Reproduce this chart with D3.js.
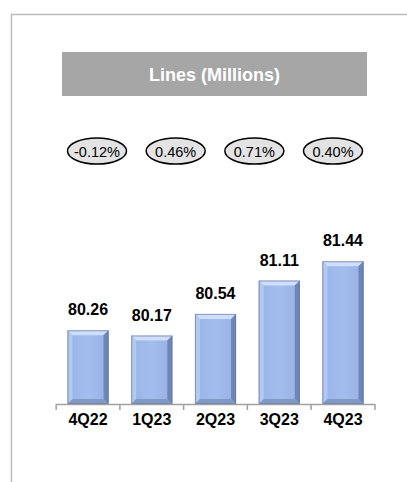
<!DOCTYPE html>
<html>
<head>
<meta charset="utf-8">
<script src="https://cdn.jsdelivr.net/npm/d3@7"></script>
<style>
  body { margin: 0; background: #fff; overflow: hidden; }
  svg { display: block; }
</style>
</head>
<body>
<div id="chart"></div>
<script>
// data
const quarters = ["4Q22", "1Q23", "2Q23", "3Q23", "4Q23"];
const lines = [80.26, 80.17, 80.54, 81.11, 81.44];
const growth = ["-0.12%", "0.46%", "0.71%", "0.40%"];
const title = "Lines (Millions)";

const W = 407, H = 482;
const svg = d3.select("#chart").append("svg")
    .attr("width", W).attr("height", H);

// frame (runs off the right and bottom of the picture)
svg.append("rect")
    .attr("x", 11.5).attr("y", 14.5)
    .attr("width", 420).attr("height", 500)
    .attr("fill", "none").attr("stroke", "#bdbdbd").attr("stroke-width", 1.5);

// title box
svg.append("rect")
    .attr("x", 62).attr("y", 52).attr("width", 305).attr("height", 44)
    .attr("fill", "#a6a6a6");
svg.append("text")
    .attr("x", 214.5).attr("y", 81)
    .attr("text-anchor", "middle")
    .style("font-family", "Liberation Sans, Arial, sans-serif")
    .style("font-weight", "bold").style("font-size", "18px")
    .attr("fill", "#fff")
    .text(title);

// growth ellipses, between consecutive bars
const gx = d3.scalePoint().domain(growth.map((d, i) => i)).range([97, 333]);
const eg = svg.selectAll(".growth").data(growth).join("g")
    .attr("class", "growth")
    .attr("transform", (d, i) => `translate(${gx(i)},151)`);
eg.append("ellipse")
    .attr("rx", 29.5).attr("ry", 13)
    .attr("fill", "#e3e3e3").attr("stroke", "#000").attr("stroke-width", 1.5);
eg.append("text")
    .attr("y", 5.5)
    .attr("text-anchor", "middle")
    .style("font-family", "Liberation Sans, Arial, sans-serif")
    .style("font-size", "14.5px")
    .attr("fill", "#000")
    .text(d => d);

// bar chart
const x = d3.scaleBand().domain(quarters).range([56, 375]).paddingInner(0.355).paddingOuter(0.18);
const y = d3.scaleLinear().domain([79, 82]).range([404, 228.5]);

const defs = svg.append("defs");
const grad = defs.append("linearGradient").attr("id", "barFill")
    .attr("x1", 0).attr("x2", 1).attr("y1", 0).attr("y2", 0);
grad.append("stop").attr("offset", "0%").attr("stop-color", "#98b4e6");
grad.append("stop").attr("offset", "50%").attr("stop-color", "#a3bdee");
grad.append("stop").attr("offset", "100%").attr("stop-color", "#96b0e2");

const bv = 5; // bevel size
const bars = svg.selectAll(".bar").data(quarters).join("g").attr("class", "bar");

bars.append("rect")
    .attr("x", d => x(d)).attr("y", (d, i) => y(lines[i]))
    .attr("width", x.bandwidth()).attr("height", (d, i) => y(79) - y(lines[i]))
    .attr("fill", "url(#barFill)");

function bevel(pts) { return pts.map(p => p.join(",")).join(" "); }

// top bevel (light)
bars.append("polygon")
    .attr("points", (d, i) => {
      const l = x(d), r = x(d) + x.bandwidth(), t = y(lines[i]);
      return bevel([[l, t], [r, t], [r - bv, t + bv], [l + bv, t + bv]]);
    })
    .attr("fill", "#cfdefa");
// left bevel
bars.append("polygon")
    .attr("points", (d, i) => {
      const l = x(d), t = y(lines[i]), b = y(79);
      return bevel([[l, t], [l + bv, t + bv], [l + bv, b - bv], [l, b]]);
    })
    .attr("fill", "#b4c9f0");
// right bevel (dark)
bars.append("polygon")
    .attr("points", (d, i) => {
      const r = x(d) + x.bandwidth(), t = y(lines[i]), b = y(79);
      return bevel([[r, t], [r, b], [r - bv, b - bv], [r - bv, t + bv]]);
    })
    .attr("fill", "#6f86b4");
// bottom bevel
bars.append("polygon")
    .attr("points", (d, i) => {
      const l = x(d), r = x(d) + x.bandwidth(), b = y(79);
      return bevel([[l, b], [l + bv, b - bv], [r - bv, b - bv], [r, b]]);
    })
    .attr("fill", "#8199c6");
// thin outline
bars.append("rect")
    .attr("x", d => x(d) + 0.5).attr("y", (d, i) => y(lines[i]) + 0.5)
    .attr("width", x.bandwidth() - 1).attr("height", (d, i) => y(79) - y(lines[i]) - 1)
    .attr("fill", "none").attr("stroke", "#5a6f99").attr("stroke-width", 1).attr("stroke-opacity", 0.6);

// value labels
svg.selectAll(".val").data(lines).join("text")
    .attr("class", "val")
    .attr("x", (d, i) => x(quarters[i]) + x.bandwidth() / 2)
    .attr("y", d => y(d) - 15)
    .attr("text-anchor", "middle")
    .style("font-family", "Liberation Sans, Arial, sans-serif")
    .style("font-weight", "bold").style("font-size", "16px")
    .attr("fill", "#000")
    .text(d => d.toFixed(2));

// category axis
const xAxis = d3.axisBottom(x).tickSize(0).tickPadding(0);
const ax = svg.append("g").attr("transform", "translate(0,404)").call(xAxis);
ax.select(".domain").remove();
ax.selectAll("text").remove();
ax.append("line").attr("x1", 56).attr("x2", 375).attr("y1", 0.5).attr("y2", 0.5)
    .attr("stroke", "#a0a0a0").attr("stroke-width", 1.5);
const step = x.step();
const bounds = quarters.map(q => x(q) - (step - x.bandwidth()) / 2).concat([375]);
ax.selectAll(".sep").data(bounds).join("line").attr("class", "sep")
    .attr("x1", d => d).attr("x2", d => d).attr("y1", 0).attr("y2", 6)
    .attr("stroke", "#a0a0a0").attr("stroke-width", 1.5);
ax.selectAll(".cat").data(quarters).join("text").attr("class", "cat")
    .attr("x", d => x(d) + x.bandwidth() / 2).attr("y", 21)
    .attr("text-anchor", "middle")
    .style("font-family", "Liberation Sans, Arial, sans-serif")
    .style("font-weight", "bold").style("font-size", "16px")
    .attr("fill", "#000")
    .text(d => d);
</script>
</body>
</html>
